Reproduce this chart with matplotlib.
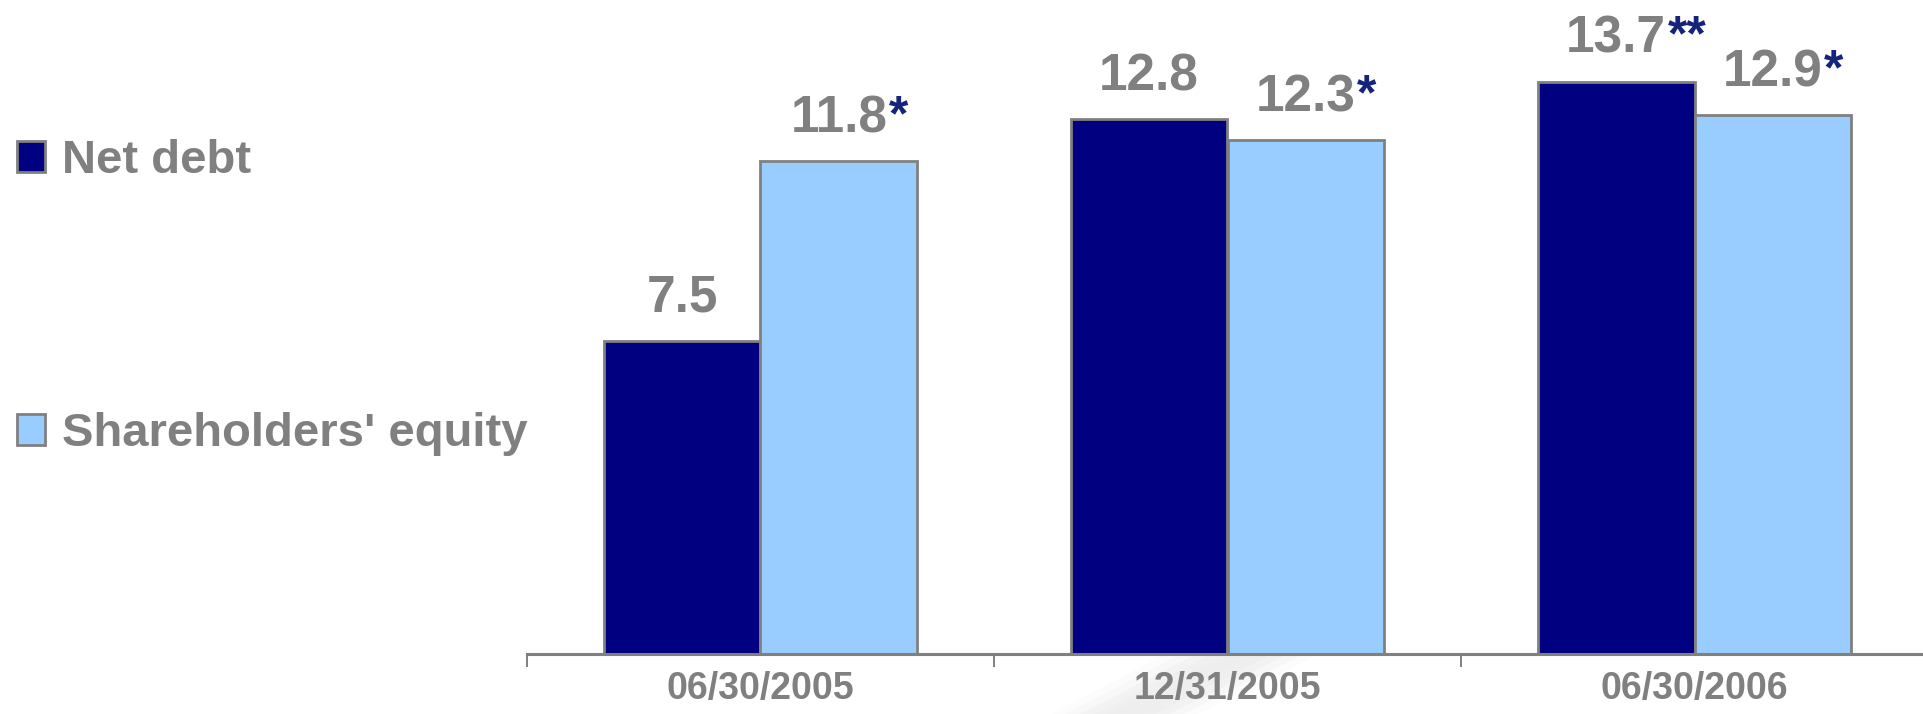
import numpy as np
import matplotlib
matplotlib.use("Agg")
from matplotlib import pyplot as plt
from matplotlib.patches import Polygon

# data
periods = ["06/30/2005", "12/31/2005", "06/30/2006"]
net_debt = [7.5, 12.8, 13.7]
equity = [11.8, 12.3, 12.9]
debt_marks = ["", "", "**"]
equity_marks = ["*", "*", "*"]

GREY = "#808080"
NAVY = "#000080"
LIGHT = "#99CCFF"
STAR = "#14247a"

plt.rcParams["font.family"] = ["Liberation Sans", "DejaVu Sans"]

fig = plt.figure(figsize=(19.24, 7.14), dpi=100)

# faint diagonal swoosh in the background
bg = fig.add_axes([0, 0, 1, 1], zorder=-5)
bg.set_xlim(0, 1924)
bg.set_ylim(714, 0)
bg.axis("off")
for i, a in enumerate([0.2, 0.35, 0.5, 0.35, 0.2]):
    off = (i - 2) * 14
    bg.add_patch(Polygon([[1080 + off, 714], [1170 + off, 714], [1924, 330 + off], [1924, 280 + off]],
                         closed=True, color="#e6e6e6", alpha=a * 0.5, lw=0))

ax = fig.add_axes([527 / 1924, 60 / 714, 1401 / 1924, 654 / 714])
x = np.arange(len(periods))
w = 0.336
b1 = ax.bar(x - w / 2, net_debt, w, color=NAVY, edgecolor=GREY, linewidth=2, label="Net debt")
b2 = ax.bar(x + w / 2, equity, w, color=LIGHT, edgecolor=GREY, linewidth=2, label="Shareholders' equity")

ax.set_xlim(-0.5, 2.5)
ax.set_ylim(0, 15.66)

for spine in ["top", "right", "left"]:
    ax.spines[spine].set_visible(False)
ax.spines["bottom"].set_color(GREY)
ax.spines["bottom"].set_linewidth(2.2)
ax.set_yticks([])

ax.set_xticks(x)
ax.set_xticklabels(periods, fontsize=27, fontweight="bold", color=GREY)
ax.tick_params(axis="x", which="major", length=0, pad=12)
ax.set_xticks([-0.5, 0.5, 1.5, 2.5], minor=True)
ax.tick_params(axis="x", which="minor", length=9.5, width=1.4, color=GREY, direction="out")

# value labels with footnote stars
for bars, vals, marks in [(b1, net_debt, debt_marks), (b2, equity, equity_marks)]:
    for bar, v, m in zip(bars, vals, marks):
        t = ax.annotate(f"{v:.1f}", (bar.get_x() + bar.get_width() / 2, v),
                        xytext=(0, 21), textcoords="offset points",
                        ha="center", va="baseline", fontsize=37, fontweight="bold", color=GREY)
        if m:
            ax.annotate(m, xy=(1, 1), xycoords=t, xytext=(1, 0), textcoords="offset points",
                        ha="left", va="top", fontsize=36, fontweight="bold", color=STAR)

leg = fig.legend(handles=[b1, b2], loc="upper left", bbox_to_anchor=(17 / 1924, 1 - 139 / 714),
                 frameon=False, prop={"weight": "bold", "size": 34},
                 labelspacing=4.85, handlelength=0.6, handleheight=0.64, handletextpad=0.36,
                 borderpad=0, borderaxespad=0)
for txt in leg.get_texts():
    txt.set_color(GREY)

fig.savefig("out.png", dpi=100)
